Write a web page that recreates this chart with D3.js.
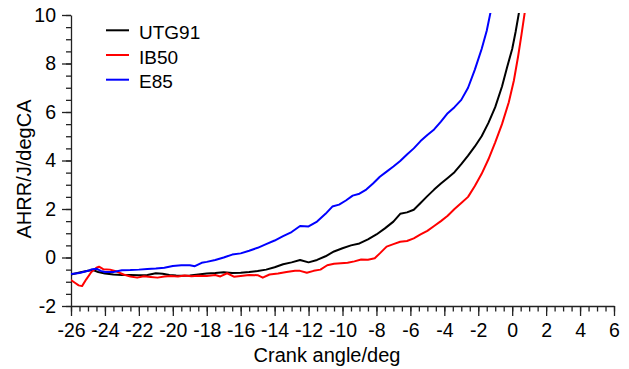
<!DOCTYPE html>
<html>
<head>
<meta charset="utf-8">
<script src="https://cdn.jsdelivr.net/npm/d3@7"></script>
<style>
  html, body { margin: 0; padding: 0; background: #fff; }
  svg { display: block; font-family: "Liberation Sans", Arial, sans-serif; }
</style>
</head>
<body>
<svg id="chart" width="629" height="369"></svg>
<script>
// Apparent heat release rate vs crank angle for three fuels
const seriesNames = ["UTG91", "IB50", "E85"];
const seriesColors = ["#000000", "#ff0000", "#0000ff"];

const utg91X = [-26, -25.5, -25, -24.7, -24.4, -24, -23.5, -23, -22.5, -22, -21.5, -21, -20.6, -20.2, -19.8, -19.4, -19, -18.5, -18, -17.5, -17, -16.5, -16, -15.5, -15, -14.5, -14, -13.5, -13, -12.5, -12, -11.5, -11, -10.5, -10, -9.5, -9, -8.5, -8, -7.5, -7, -6.6, -6.2, -5.8, -5.4, -5, -4.6, -4.2, -3.8, -3.4, -3, -2.6, -2.2, -1.8, -1.4, -1, -0.6, -0.3, 0, 0.2, 0.4];
const utg91Y = [-0.7, -0.62, -0.55, -0.52, -0.6, -0.66, -0.7, -0.72, -0.72, -0.73, -0.72, -0.65, -0.67, -0.72, -0.74, -0.75, -0.74, -0.7, -0.66, -0.64, -0.61, -0.64, -0.63, -0.6, -0.56, -0.5, -0.4, -0.28, -0.2, -0.1, -0.2, -0.1, 0.05, 0.25, 0.38, 0.5, 0.58, 0.75, 0.95, 1.2, 1.48, 1.8, 1.86, 1.97, 2.25, 2.53, 2.8, 3.05, 3.28, 3.52, 3.85, 4.2, 4.58, 5.0, 5.55, 6.2, 7.05, 7.85, 8.6, 9.3, 10.1];

const ib50X = [-26, -25.75, -25.55, -25.35, -25.1, -24.8, -24.5, -24.35, -24.1, -23.7, -23.3, -22.9, -22.5, -22.1, -21.7, -21.3, -20.9, -20.5, -20.1, -19.7, -19.3, -18.9, -18.5, -18, -17.5, -17.2, -16.8, -16.4, -16, -15.5, -15, -14.7, -14.3, -13.8, -13.3, -12.8, -12.5, -12.1, -11.7, -11.3, -10.9, -10.5, -10.1, -9.7, -9.3, -8.9, -8.5, -8.1, -7.8, -7.4, -7, -6.6, -6.2, -5.8, -5.4, -5, -4.6, -4.2, -3.8, -3.4, -3, -2.6, -2.2, -1.8, -1.4, -1, -0.6, -0.2, 0.1, 0.35, 0.55, 0.75];
const ib50Y = [-0.93, -1.05, -1.15, -1.18, -0.9, -0.6, -0.42, -0.38, -0.48, -0.5, -0.58, -0.7, -0.78, -0.83, -0.77, -0.8, -0.83, -0.78, -0.76, -0.78, -0.74, -0.77, -0.75, -0.76, -0.72, -0.78, -0.65, -0.79, -0.76, -0.72, -0.73, -0.83, -0.7, -0.66, -0.6, -0.55, -0.55, -0.63, -0.55, -0.5, -0.32, -0.26, -0.24, -0.22, -0.16, -0.08, -0.09, -0.03, 0.17, 0.45, 0.55, 0.65, 0.68, 0.79, 0.95, 1.1, 1.3, 1.5, 1.72, 2.0, 2.25, 2.5, 2.95, 3.45, 4.05, 4.75, 5.5, 6.4, 7.3, 8.3, 9.2, 10.15];

const e85X = [-26, -25.5, -25, -24.75, -24.5, -24.25, -24, -23.5, -23, -22.5, -22, -21.5, -21, -20.5, -20, -19.5, -19, -18.7, -18.3, -18, -17.5, -17, -16.5, -16, -15.5, -15, -14.5, -14, -13.5, -13, -12.5, -12, -11.5, -11, -10.6, -10.2, -9.8, -9.4, -9, -8.6, -8.2, -7.8, -7.4, -7, -6.6, -6.2, -5.8, -5.4, -5, -4.6, -4.2, -3.8, -3.4, -3, -2.6, -2.2, -1.8, -1.5, -1.25];
const e85Y = [-0.68, -0.64, -0.55, -0.48, -0.46, -0.55, -0.6, -0.6, -0.53, -0.52, -0.5, -0.47, -0.45, -0.42, -0.35, -0.32, -0.32, -0.36, -0.22, -0.18, -0.1, 0.0, 0.12, 0.17, 0.28, 0.4, 0.55, 0.7, 0.88, 1.05, 1.3, 1.28, 1.48, 1.8, 2.1, 2.18, 2.35, 2.55, 2.63, 2.8, 3.05, 3.33, 3.54, 3.75, 3.98, 4.25, 4.5, 4.8, 5.05, 5.28, 5.6, 5.95, 6.2, 6.5, 7.0, 7.75, 8.6, 9.35, 10.2];

const xTicks = [-26, -24, -22, -20, -18, -16, -14, -12, -10, -8, -6, -4, -2, 0, 2, 4, 6];
const yTicks = [-2, 0, 2, 4, 6, 8, 10];

const seriesData = [
  utg91X.map((x, i) => ({ x, y: utg91Y[i] })),
  ib50X.map((x, i) => ({ x, y: ib50Y[i] })),
  e85X.map((x, i) => ({ x, y: e85Y[i] }))
];

const svg = d3.select("#chart");
const plotLeft = 71, plotRight = 614, plotTop = 15, plotBottom = 306;

const x = d3.scaleLinear().domain([-26, 6]).range([plotLeft, plotRight]);
const y = d3.scaleLinear().domain([-2, 10]).range([plotBottom, plotTop]);

const minorX = d3.range(-26, 6.001, 0.5);
const minorY = d3.range(-2, 10.001, 0.5);

// plain hyphen for negative numbers
const fmt = d => String(d);

// clip the traces to the plotting area
svg.append("clipPath").attr("id", "plotClip")
  .append("rect")
  .attr("x", plotLeft).attr("y", plotTop - 2)
  .attr("width", plotRight - plotLeft).attr("height", plotBottom - plotTop + 2);

// x axis: minor ticks, then major ticks with labels
const gx = svg.append("g").attr("transform", `translate(0,${plotBottom})`);
gx.append("g")
  .call(d3.axisBottom(x).tickValues(minorX).tickSize(5.5).tickFormat(""))
  .call(g => g.select(".domain").remove());
gx.append("g")
  .call(d3.axisBottom(x).tickValues(xTicks).tickSizeInner(10).tickSizeOuter(0).tickPadding(7).tickFormat(fmt));

// y axis
const gy = svg.append("g").attr("transform", `translate(${plotLeft},0)`);
gy.append("g")
  .call(d3.axisLeft(y).tickValues(minorY).tickSize(5).tickFormat(""))
  .call(g => g.select(".domain").remove());
gy.append("g")
  .call(d3.axisLeft(y).tickValues(yTicks).tickSizeInner(9).tickSizeOuter(0).tickPadding(6).tickFormat(fmt));

svg.selectAll(".tick line").attr("stroke", "#222").attr("stroke-width", 1.3);
svg.selectAll(".domain").attr("stroke", "#222").attr("stroke-width", 1.3);
svg.selectAll(".tick text")
  .attr("fill", "#000")
  .style("font-size", "19.5px")
  .style("font-family", "'Liberation Sans', Arial, sans-serif");

// axis titles
svg.append("text")
  .attr("x", 327).attr("y", 362)
  .attr("text-anchor", "middle")
  .style("font-size", "20px")
  .text("Crank angle/deg");

svg.append("text")
  .attr("transform", `translate(31,169) rotate(-90)`)
  .attr("text-anchor", "middle")
  .style("font-size", "20px")
  .text("AHRR/J/degCA");

// traces
const line = d3.line().x(d => x(d.x)).y(d => y(d.y));
svg.append("g").attr("clip-path", "url(#plotClip)")
  .selectAll("path")
  .data(seriesData)
  .join("path")
  .attr("d", line)
  .attr("fill", "none")
  .attr("stroke", (d, i) => seriesColors[i])
  .attr("stroke-width", 2)
  .attr("stroke-linejoin", "round");

// legend
const legend = svg.append("g");
seriesNames.forEach((name, i) => {
  const ly = 30.3 + i * 24.7;
  legend.append("line")
    .attr("x1", 106).attr("x2", 129)
    .attr("y1", ly).attr("y2", ly)
    .attr("stroke", seriesColors[i]).attr("stroke-width", 2);
  legend.append("text")
    .attr("x", 139).attr("y", ly + 8.7)
    .style("font-size", "19px")
    .text(name);
});
</script>
</body>
</html>
